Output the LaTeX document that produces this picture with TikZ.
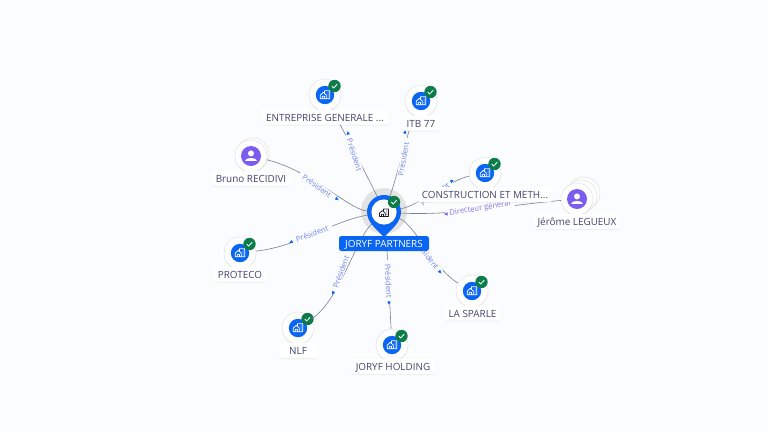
\documentclass[tikz,border=0pt]{standalone}
\usepackage{fontspec}
\setmainfont{Open Sans}
\usetikzlibrary{shadows}
\definecolor{bgc}{HTML}{FBFCFE}
\definecolor{bluec}{HTML}{0A66F2}
\definecolor{purp}{HTML}{7C5CF0}
\definecolor{greenc}{HTML}{0E7C4A}
\definecolor{txt}{HTML}{41466C}
\definecolor{edgec}{HTML}{7A7F92}
\definecolor{rel}{HTML}{6F85E8}
\definecolor{relp}{HTML}{8570E6}
\tikzset{
  disc/.style={circle,fill=white,draw=black!10,line width=.6pt,minimum size=32pt,inner sep=0pt,
    drop shadow={opacity=.09,shadow xshift=0pt,shadow yshift=-1pt}},
  tag/.style={fill=white,rounded corners=2pt,inner sep=0pt,text=txt,minimum height=15pt,
    font=\fontsize{9.9}{11}\selectfont,text height=8pt,text depth=0pt,
    drop shadow={opacity=.11,shadow xshift=0pt,shadow yshift=-1pt}},
  link/.style={draw=edgec,line width=.6pt},
  rellab/.style={fill=bgc,inner xsep=4.5pt,inner ysep=.6pt,text=rel,font=\fontsize{7.6}{8}\selectfont},
  relplab/.style={rellab,text=relp},
  hubtag/.style={fill=bluec,text=white,rounded corners=2.5pt,inner sep=0pt,minimum width=90pt,minimum height=15pt,
    font=\fontsize{9.9}{11}\selectfont,text height=8pt,text depth=0pt},
  bldg/.pic={
    \draw[pic actions,line width=.75pt,line join=round]
      (-5.5,4.5) -- (-5.5,0) -- (-2,-3) -- (1.5,0) -- (1.5,4.5) -- cycle
      (-3.2,4.5) -- (-3.2,1.5) -- (-.6,1.5) -- (-.6,4.5)
      (-.5,-2.6) -- (-.5,-5) -- (5.5,-5) -- (5.5,4.5) -- (1.5,4.5)
      (3,-2.5) -- (4.2,-2.5) (3,0) -- (4.2,0) (3,2.3) -- (4.2,2.3);
  },
  badge/.pic={
    \fill[greenc] (0,0) circle (6.2);
    \draw[white,line width=.8pt,line cap=round,line join=round] (-2.6,.2) -- (-.8,2) -- (2.7,-1.8);
  },
  person/.pic={
    \fill[purp] (0,0) circle (10);
    \fill[white] (0,-2.6) circle (3);
    \fill[white] (-6,5.3) .. controls (-6,1.2) and (6,1.2) .. (6,5.3) -- cycle;
  },
  tipmark/.pic={
    \fill[pic actions] (2,0) -- (-1.6,-1.7) -- (-1.6,1.7) -- cycle;
  }
}
\newcommand{\company}[3]{% name, x, y
  \node[disc] (#1) at (#2,#3) {};
  \fill[bluec] (#2,#3) circle (9.2);
  \path (#2,#3) pic[draw=white,scale=.85]{bldg};
  \path (#2+9.5,#3-9) pic{badge};
}
\begin{document}
\begin{tikzpicture}[x=1pt,y=-1pt]
\fill[bgc] (0,0) rectangle (768,432);
\useasboundingbox (0,0) rectangle (768,432);

% hub halo
\fill[black!11] (384,211) circle (23);

% satellites
\company{ent}{325}{95}
\company{itb}{421}{101}
\company{con}{485}{173}
\company{pro}{240}{253}
\company{nlf}{298}{328}
\company{hol}{392}{345}
\company{spa}{472}{291}

\node[disc] at (584,193) {};
\node[disc] at (581,196) {};
\node[disc] (jer) at (577,199) {};
\path (577,199) pic{person};
\node[disc] at (253,154) {};
\node[disc] (bru) at (251,156) {};
\path (251,156) pic{person};

\node[circle,minimum size=34pt,inner sep=0pt] (hub) at (384,212) {};

% connectors
\draw[link] (hub) .. controls (372,185) and (348,140) .. (ent);
\draw[link] (hub) .. controls (396,180) and (408,130) .. (itb);
\draw[link] (hub) .. controls (420,205) and (450,180) .. (con);
\draw[link] (hub) .. controls (450,216) and (510,205) .. (jer);
\draw[link] (hub) .. controls (350,210) and (310,170) .. (bru);
\draw[link] (hub) .. controls (330,222) and (300,246) .. (pro);
\draw[link] (hub) .. controls (355,240) and (340,300) .. (nlf);
\draw[link] (hub) .. controls (388,260) and (390,310) .. (hol);
\draw[link] (hub) .. controls (415,225) and (435,270) .. (spa);

% connector labels
\node[rellab,rotate=-72] at (354.5,155) {Président};
\node[rellab,rotate=80] at (403.5,159) {Président};
\node[rellab,rotate=36] at (435,194) {Président};
\node[relplab,rotate=9] at (480,208.5) {Directeur général};
\node[rellab,rotate=-36] at (317,186) {Président};
\node[rellab,rotate=20] at (312,234) {Président};
\node[rellab,rotate=70] at (341,272) {Président};
\node[rellab,rotate=-87] at (388.5,281) {Président};
\node[rellab,rotate=-52] at (427,255) {Président};

\path (348,133) pic[fill=bluec,rotate=100]{tipmark};
\path (405,132) pic[fill=bluec,rotate=80]{tipmark};
\path (452,181) pic[fill=bluec,rotate=30]{tipmark};
\path (446,214) pic[fill=purp,rotate=180]{tipmark};
\path (337,199) pic[fill=bluec,rotate=-36]{tipmark};
\path (291,242) pic[fill=bluec,rotate=200]{tipmark};
\path (333,293) pic[fill=bluec,rotate=250]{tipmark};
\path (389,303) pic[fill=bluec,rotate=-90]{tipmark};
\path (440,272) pic[fill=bluec,rotate=-50]{tipmark};

% hub pin
\fill[bluec] (367,212) arc[start angle=180,end angle=360,radius=17]
  .. controls (401,222) and (392,229) .. (384,237)
  .. controls (376,229) and (367,222) .. (367,212) -- cycle;
\fill[white] (384,212) circle (12.6);
\path (384,213) pic[draw=black!60!txt,scale=.8]{bldg};
\path (394,202) pic{badge};

% text tags
\node[tag,minimum width=126pt] (tent) at (325,117) {ENTREPRISE GENERALE ...};
\node[tag,minimum width=36pt] (titb) at (421,123) {ITB 77};
\node[tag,minimum width=134pt] (tcon) at (485,194.5) {CONSTRUCTION ET METH...};
\node[tag,minimum width=86pt] (tjer) at (577,221.5) {Jérôme LEGUEUX};
\node[tag,minimum width=76pt] (tbru) at (251,178.5) {Bruno RECIDIVI};
\node[tag,minimum width=52pt] (tpro) at (240,274) {PROTECO};
\node[tag,minimum width=38pt] (tnlf) at (298,350.5) {NLF};
\node[tag,minimum width=84pt] (thol) at (393,366.5) {JORYF HOLDING};
\node[tag,minimum width=55pt] (tspa) at (472.5,313) {LA SPARLE};
\node[hubtag] (thub) at (384,243.5) {JORYF PARTNERS};
\end{tikzpicture}
\end{document}
